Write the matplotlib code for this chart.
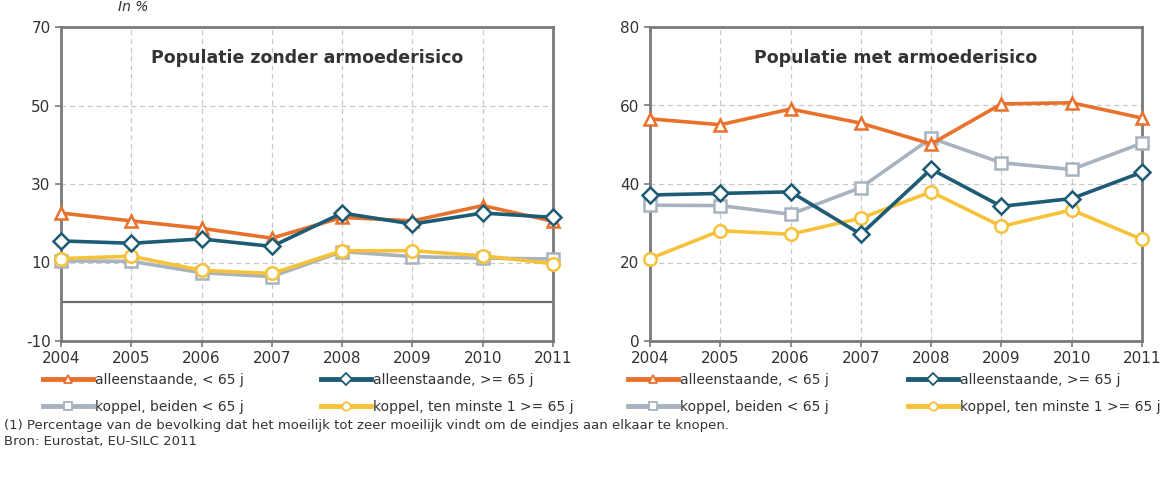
import matplotlib
matplotlib.use("Agg")
import matplotlib.pyplot as plt
from matplotlib.lines import Line2D

plt.rcParams['font.family'] = ['DejaVu Sans']
plt.rcParams['axes.unicode_minus'] = False

years = [2004, 2005, 2006, 2007, 2008, 2009, 2010, 2011]
labels = ["alleenstaande, < 65 j", "alleenstaande, >= 65 j",
          "koppel, beiden < 65 j", "koppel, ten minste 1 >= 65 j"]

# Populatie zonder armoederisico
zonder_alleen_lt65 = [22.6, 20.6, 18.7, 16.2, 21.5, 20.6, 24.5, 20.5]
zonder_alleen_ge65 = [15.5, 14.9, 16.0, 14.1, 22.6, 19.8, 22.6, 21.5]
zonder_koppel_lt65 = [10.4, 10.3, 7.4, 6.4, 12.8, 11.5, 11.1, 10.9]
zonder_koppel_ge65 = [11.0, 11.6, 8.0, 7.2, 13.0, 13.0, 11.7, 9.7]

# Populatie met armoederisico
met_alleen_lt65 = [56.6, 55.1, 59.1, 55.5, 50.2, 60.4, 60.7, 56.8]
met_alleen_ge65 = [37.2, 37.6, 38.0, 27.2, 43.8, 34.3, 36.3, 43.0]
met_koppel_lt65 = [34.6, 34.5, 32.3, 39.1, 51.7, 45.4, 43.7, 50.4]
met_koppel_ge65 = [21.0, 28.1, 27.2, 31.3, 38.0, 29.2, 33.4, 25.9]

colors = ["#E8722C", "#1E5B74", "#A8B3C0", "#F6C23A"]
markers = ["^", "D", "s", "o"]

fig = plt.figure(figsize=(11.75, 4.82), dpi=100)
ax1 = fig.add_axes([61/1175, 1-341/482, 492/1175, 314/482])
ax2 = fig.add_axes([650/1175, 1-341/482, 492/1175, 314/482])

def draw(ax, series, ylim, yticks, title, zero_line):
    ax.set_facecolor("white")
    ax.set_xlim(2004, 2011)
    ax.set_ylim(*ylim)
    ax.set_yticks(yticks)
    ax.set_xticks(years)
    ax.grid(True, color="#C8C8C8", linestyle=(0, (4, 3)), linewidth=0.9)
    ax.set_axisbelow(True)
    if zero_line:
        ax.axhline(0, color="#6E6E6E", linewidth=1.6, zorder=2)
    for i in [2, 3, 0, 1]:
        ax.plot(years, series[i], color=colors[i], linewidth=2.6,
                marker=markers[i], markersize=9 if markers[i] != "D" else 8,
                markerfacecolor="white", markeredgecolor=colors[i],
                markeredgewidth=1.8, label=labels[i], zorder=3, clip_on=False)
    for s in ax.spines.values():
        s.set_color("#7A7A7A")
        s.set_linewidth(2.0)
    ax.tick_params(axis="both", length=4, color="#7A7A7A", labelsize=11,
                   labelcolor="#333333", width=1.2)
    ax.tick_params(axis="x", pad=3)
    ax.text(0.5, 0.9, title, transform=ax.transAxes, ha="center", va="center",
            fontsize=12.5, fontweight="bold", color="#333333")

draw(ax1, [zonder_alleen_lt65, zonder_alleen_ge65, zonder_koppel_lt65, zonder_koppel_ge65],
     (-10, 70), [-10, 10, 30, 50, 70], "Populatie zonder armoederisico", True)
draw(ax2, [met_alleen_lt65, met_alleen_ge65, met_koppel_lt65, met_koppel_ge65],
     (0, 80), [0, 20, 40, 60, 80], "Populatie met armoederisico", False)

def handle(i):
    return Line2D([], [], color=colors[i], linewidth=3.5, marker=markers[i],
                  markersize=6, markerfacecolor="white",
                  markeredgecolor=colors[i], markeredgewidth=1.3)

# legends: each column separately
cols = [(40, [0, 2]), (318, [1, 3]), (625, [0, 2]), (905, [1, 3])]
for x0, idx in cols:
    leg = fig.legend([handle(i) for i in idx], [labels[i] for i in idx],
                     loc="upper left", bbox_to_anchor=(x0/1175, 1-370/482),
                     ncol=1, frameon=False, fontsize=10, handlelength=3.6,
                     handletextpad=0.15, labelspacing=0.95, borderaxespad=0,
                     borderpad=0.2)
    for t in leg.get_texts():
        t.set_color("#333333")

fig.text(118/1175, 1-7/482, "In %", fontsize=10, style="italic", color="#333333",
         va="center", ha="left")
fig.text(4/1175, 1-425/482,
         "(1) Percentage van de bevolking dat het moeilijk tot zeer moeilijk vindt om de eindjes aan elkaar te knopen.",
         fontsize=9.5, color="#333333", va="center", ha="left")
fig.text(4/1175, 1-442/482, "Bron: Eurostat, EU-SILC 2011",
         fontsize=9.5, color="#333333", va="center", ha="left")

fig.savefig("out.png", dpi=100)
